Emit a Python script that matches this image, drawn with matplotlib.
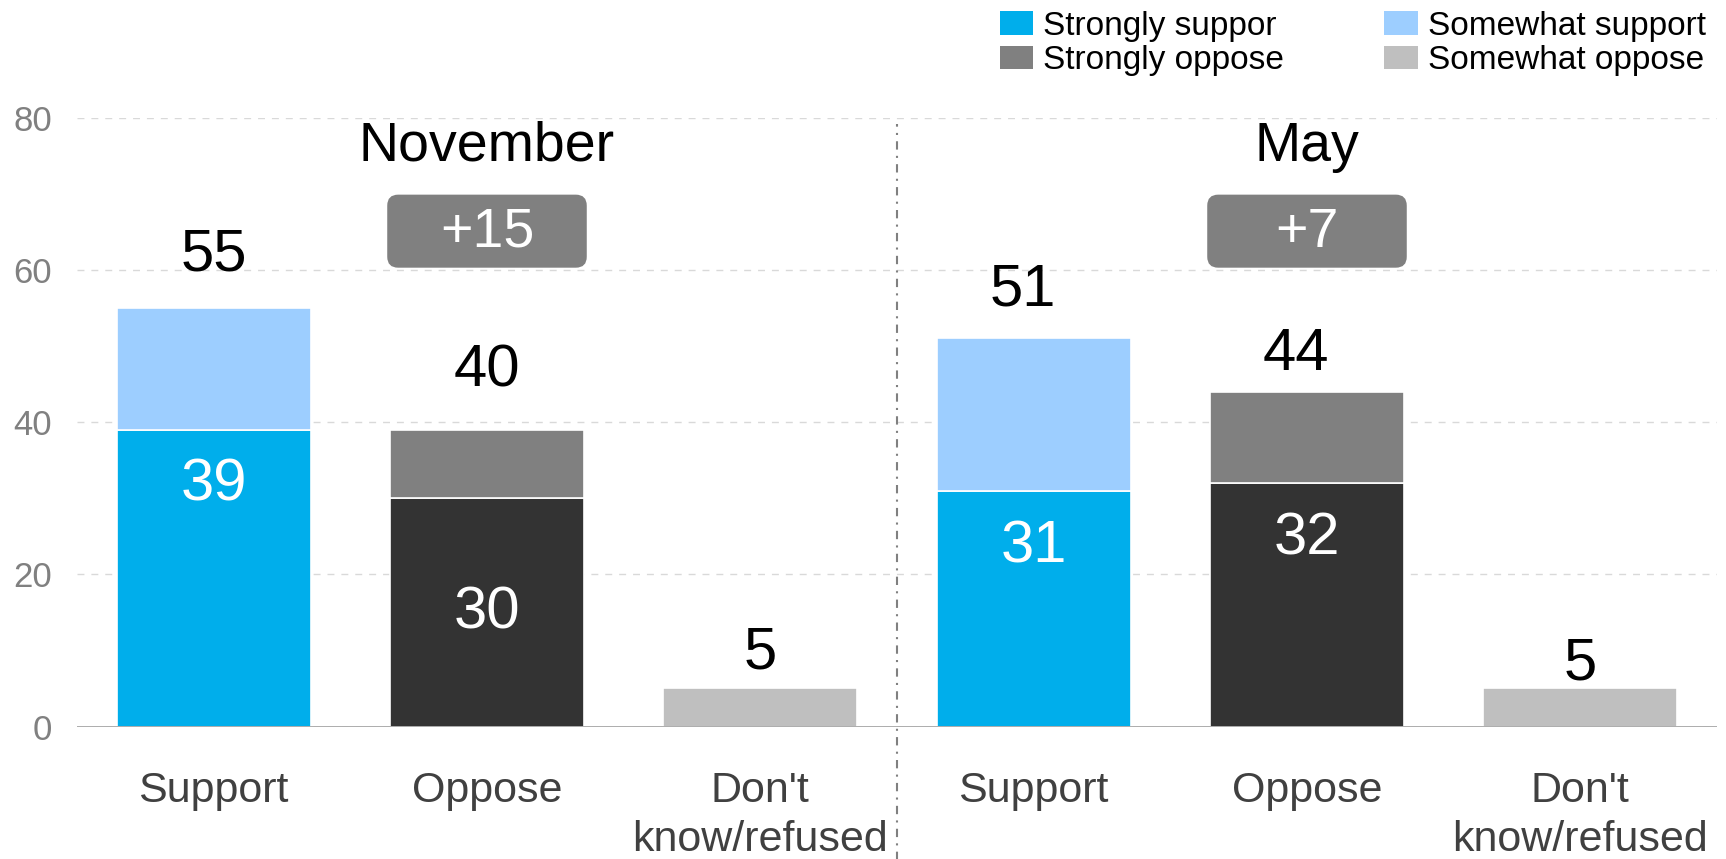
import matplotlib
matplotlib.use("Agg")
import matplotlib.pyplot as plt
from matplotlib.patches import Patch, FancyBboxPatch

plt.rcParams['font.family'] = ['Liberation Sans', 'DejaVu Sans']

# ---------------- data ----------------
groups = ["November", "May"]
categories = ["Support", "Oppose", "Don't\nknow/refused"]
strongly_support = [39, 31]
somewhat_support = [16, 20]
strongly_oppose = [30, 32]
somewhat_oppose = [9, 12]
dont_know = [5, 5]
support_totals = [55, 51]
oppose_totals = [40, 44]
net_labels = ["+15", "+7"]
yticks = [0, 20, 40, 60, 80]

# ---------------- styles ----------------
C_STRONG_SUP = "#00AEEB"
C_SOME_SUP = "#9DCEFF"
C_STRONG_OPP = "#333333"
C_SOME_OPP = "#808080"
C_DK = "#BFBFBF"
BAR_W = 0.71

# label positions (layout only)
total_label_y = [[62.0, 46.7, 9.7], [57.4, 48.9, 8.2]]
total_label_dx = [[0, 0, 0], [-0.04, -0.04, 0]]
inner_label_y = [[31.7, 14.9], [23.6, 24.6]]
title_y = 76.2
box_y0, box_y1 = 60.3, 69.9
box_text_y = 64.9

W, H = 1726, 859
fig = plt.figure(figsize=(W / 100, H / 100), dpi=100)
ax = fig.add_axes([77 / W, (H - 726.5) / H, (1717 - 77) / W, 608.7 / H])

for g in range(len(groups)):
    base = g * 3
    xs, xo, xd = base, base + 1, base + 2
    ax.bar(xs, strongly_support[g], BAR_W, color=C_STRONG_SUP, edgecolor="white", linewidth=1.2, zorder=3)
    ax.bar(xs, somewhat_support[g], BAR_W, bottom=strongly_support[g], color=C_SOME_SUP,
           edgecolor="white", linewidth=1.2, zorder=3)
    ax.bar(xo, strongly_oppose[g], BAR_W, color=C_STRONG_OPP, edgecolor="white", linewidth=1.2, zorder=3)
    ax.bar(xo, somewhat_oppose[g], BAR_W, bottom=strongly_oppose[g], color=C_SOME_OPP,
           edgecolor="white", linewidth=1.2, zorder=3)
    ax.bar(xd, dont_know[g], BAR_W, color=C_DK, edgecolor="white", linewidth=1.2, zorder=3)

    # totals
    tots = [support_totals[g], oppose_totals[g], dont_know[g]]
    for k, t in enumerate(tots):
        ax.text(base + k + total_label_dx[g][k], total_label_y[g][k], str(t), ha="center",
                va="center", fontsize=43, color="black", zorder=5)
    # inner labels
    ax.text(xs, inner_label_y[g][0], str(strongly_support[g]), ha="center", va="center",
            fontsize=43, color="white", zorder=5)
    ax.text(xo, inner_label_y[g][1], str(strongly_oppose[g]), ha="center", va="center",
            fontsize=43, color="white", zorder=5)
    # group title
    ax.text(base + 1, title_y, groups[g], ha="center", va="center", fontsize=40,
            color="black", zorder=5)
    # net box
    bw = 0.73
    box = FancyBboxPatch((base + 1 - bw / 2, box_y0), bw, box_y1 - box_y0,
                         boxstyle="round,pad=0,rounding_size=0.04",
                         mutation_aspect=35.9, facecolor="#808080", edgecolor="none", zorder=4)
    ax.add_patch(box)
    ax.text(base + 1, box_text_y, net_labels[g], ha="center", va="center", fontsize=40,
            color="white", zorder=5)

# axes styling
ax.set_xlim(-0.5, 5.5)
ax.set_ylim(0, 80)
ax.set_yticks(yticks)
ax.set_yticklabels([str(v) for v in yticks], fontsize=25, color="#808080")
ax.set_xticks(range(6))
ax.set_xticklabels(categories * 2, fontsize=31, color="#404040", linespacing=1.3)
ax.tick_params(axis="both", length=0)
ax.tick_params(axis="y", pad=18)
ax.tick_params(axis="x", pad=32)
for s in ax.spines.values():
    s.set_visible(False)
ax.grid(axis="y", color="#D9D9D9", linestyle=(0, (5, 5)), linewidth=1, zorder=0)
ax.set_axisbelow(True)
ax.axhline(0, color="#A6A6A6", linewidth=2, zorder=4)
ax.axvline(2.5, ymin=-0.22, ymax=0.99, color="#808080", linewidth=1.5,
           linestyle=(0, (4, 3, 1, 3)), clip_on=False, zorder=2)

# legend
handles = [
    Patch(facecolor=C_STRONG_SUP, label="Strongly suppor"),
    Patch(facecolor="#808080", label="Strongly oppose"),
    Patch(facecolor=C_SOME_SUP, label="Somewhat support"),
    Patch(facecolor=C_DK, label="Somewhat oppose"),
]
fig.legend(handles=handles, ncol=2, loc="upper left", bbox_to_anchor=(1000 / W, 0.9876),
           frameon=False, fontsize=24, borderpad=0, handlelength=1.0, handleheight=0.7,
           handletextpad=0.3, columnspacing=3.0, labelspacing=0.1, borderaxespad=0)

fig.savefig("out.png", dpi=100)
